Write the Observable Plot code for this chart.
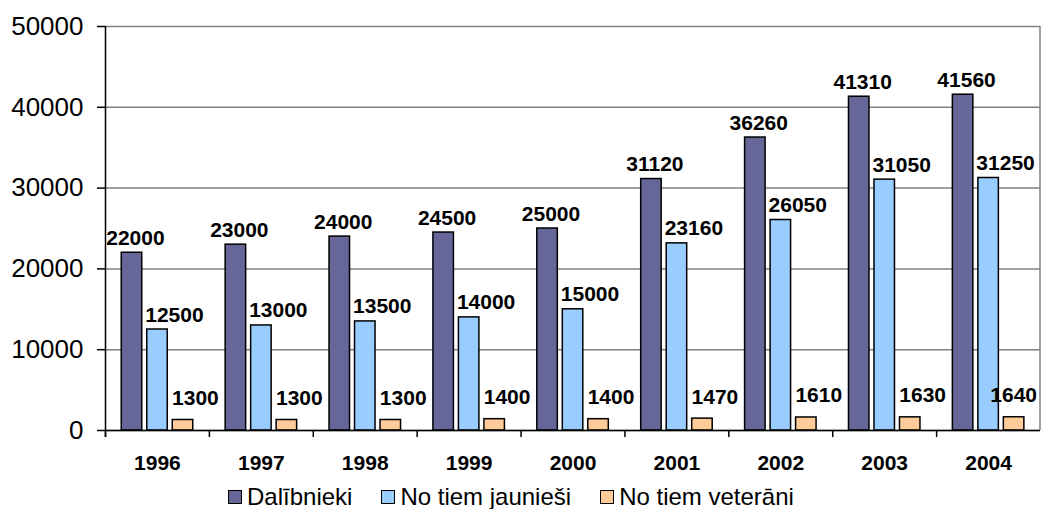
<!DOCTYPE html>
<html><head><meta charset="utf-8">
<script src="https://cdn.jsdelivr.net/npm/d3@7"></script>
<script src="https://cdn.jsdelivr.net/npm/@observablehq/plot@0.6"></script>
<style>
body{margin:0;background:#fff;font-family:"Liberation Sans",Arial,sans-serif;}
#chart svg{display:block;}
#legend{display:flex;align-items:center;height:25px;padding-top:6px;padding-left:228px;font-size:24px;color:#000;white-space:nowrap;}
.item{display:flex;align-items:center;margin-right:29px;}
.sw{width:12px;height:12px;border:1.5px solid #000;margin-right:5px;box-sizing:content-box;}
</style></head>
<body><div id="chart"></div><div id="legend"></div>
<script>
const years = ["1996","1997","1998","1999","2000","2001","2002","2003","2004"];
const dalibnieki = [22000,23000,24000,24500,25000,31120,36260,41310,41560];
const jaunviesi = [12500,13000,13500,14000,15000,23160,26050,31050,31250];
const veterani = [1300,1300,1300,1400,1400,1470,1610,1630,1640];
const seriesNames = ["Dalībnieki","No tiem jaunieši","No tiem veterāni"];
const seriesValues = [dalibnieki, jaunviesi, veterani];
const colors = ["#666699","#99CCFF","#FFCC99"];
const yTicks = [0,10000,20000,30000,40000,50000];

const W = 1041, H = 478, mL = 105, mR = 1, mT = 26, mB = 48;
const bw = (W - mL - mR) / years.length;
const rows = [];
seriesNames.forEach((s, k) => years.forEach((y, i) => rows.push({year: y, series: s, k, value: seriesValues[k][i]})));

const labelDx = [-22, 17, 38];
const labelDy = [-8, -8, -15];

const barMarks = seriesNames.map((s, k) => Plot.barY(rows.filter(r => r.k === k), {
  x: "year", y: "value", fill: colors[k], stroke: "#000", strokeWidth: 1.5,
  insetLeft: 16.25 + k * 25.5, insetRight: bw - 36.75 - k * 25.5
}));
const labelMarks = seriesNames.map((s, k) => Plot.text(rows.filter(r => r.k === k), {
  x: "year", y: "value", text: d => String(d.value), dx: labelDx[k], dy: labelDy[k],
  lineAnchor: "bottom", fontSize: 21, fontWeight: "bold", fill: "#000", className: "vlabel"
}));

const chart = Plot.plot({
  width: W, height: H, marginLeft: mL, marginRight: mR, marginTop: mT, marginBottom: mB,
  x: {domain: years, padding: 0, round: false, label: null},
  y: {domain: [0, 50000], label: null},
  style: {fontFamily: "'Liberation Sans', Arial, sans-serif", color: "#000", background: "#fff", overflow: "visible"},
  marks: [
    Plot.gridY(yTicks, {stroke: "#808080", strokeOpacity: 1, strokeWidth: 1.5}),
    Plot.ruleX([years[years.length - 1]], {x: d => d, dx: bw / 2 - 0.5, stroke: "#808080", strokeWidth: 1.5}),
    ...barMarks,
    Plot.ruleY([0], {stroke: "#000", strokeWidth: 1.5}),
    Plot.ruleX([years[0]], {x: d => d, dx: -bw / 2, stroke: "#000", strokeWidth: 1.5, insetBottom: -7}),
    Plot.ruleX(years, {x: d => d, y1: 0, y2: 0, dx: -bw / 2, insetBottom: -7, stroke: "#000", strokeWidth: 1.5}),
    Plot.axisY(yTicks, {tickSize: 8, tickPadding: 14, fontSize: 26, tickFormat: d3.format("d"), strokeWidth: 1.5}),
    Plot.axisX({tickSize: 0, tickPadding: 25, fontSize: 21, fontWeight: "bold"}),
    ...labelMarks
  ]
});
document.getElementById("chart").appendChild(chart);

// keep value labels inside the chart's right edge
chart.querySelectorAll(".vlabel text").forEach(t => {
  const b = t.getBBox();
  const ctm = t.getCTM();
  const right = b.x + b.width + (ctm ? ctm.e : 0);
  if (right > W - 4) {
    const cur = +(t.getAttribute("x") || 0);
    t.setAttribute("x", cur - (right - (W - 4)));
  }
});

const legend = document.getElementById("legend");
seriesNames.forEach((s, k) => {
  const it = document.createElement("div"); it.className = "item";
  const sw = document.createElement("span"); sw.className = "sw"; sw.style.background = colors[k];
  const tx = document.createElement("span"); tx.textContent = s;
  it.appendChild(sw); it.appendChild(tx); legend.appendChild(it);
});
</script></body></html>
